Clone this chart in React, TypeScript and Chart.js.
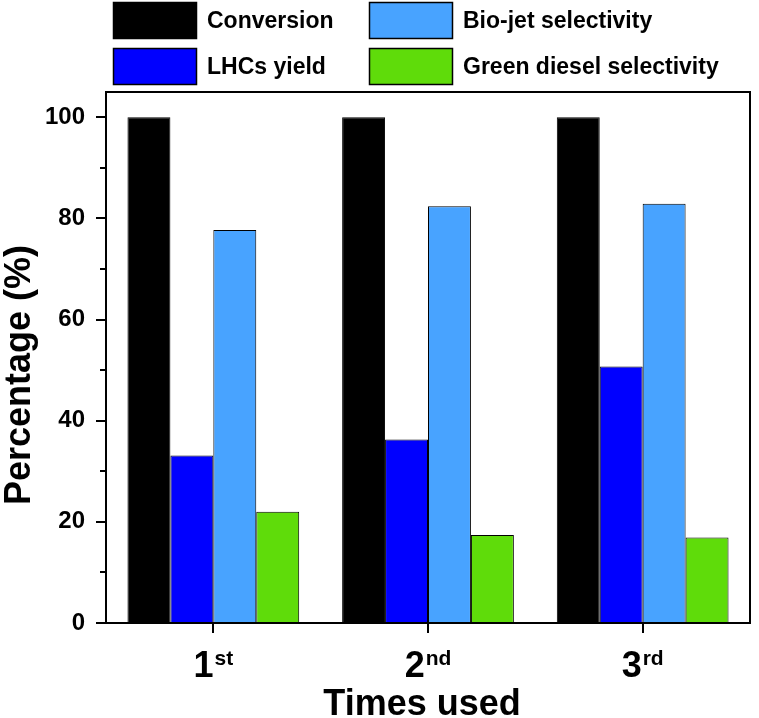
import React, { useEffect, useRef } from 'react';
import { Chart, registerables } from 'chart.js';

Chart.register(...registerables);

// Run number and its ordinal suffix (drawn as a superscript)
const categories = ['1', '2', '3'];
const ordinalSuffixes = ['st', 'nd', 'rd'];

// Series values (%)
const conversion = [100, 100, 100];
const lhcsYield = [33.1, 36.3, 50.7];
const bioJetSelectivity = [77.7, 82.4, 82.9];
const greenDieselSelectivity = [22.0, 17.4, 16.9];

// Y axis ticks
const yTickValues = [0, 20, 40, 60, 80, 100];
const yMinorTickValues = [10, 30, 50, 70, 90];

const seriesLabels = ['Conversion', 'LHCs yield', 'Bio-jet selectivity', 'Green diesel selectivity'];
const seriesColors = ['#000000', '#0000FF', '#48A3FF', '#5FDC0A'];

const FONT = '"Liberation Sans", Arial, Helvetica, sans-serif';
const W = 759;
const H = 718;

const decorPlugin = {
  id: 'decor',
  afterDatasetsDraw(chart: any) {
    const { ctx, chartArea: a, scales } = chart;
    const xs = scales.x;
    const ys = scales.y;
    ctx.save();
    ctx.strokeStyle = '#000';
    ctx.lineWidth = 2;
    ctx.lineCap = 'butt';
    // plot frame
    ctx.strokeRect(a.left, a.top, a.right - a.left, a.bottom - a.top);
    // ticks
    ctx.beginPath();
    for (const v of yTickValues) {
      const py = Math.round(ys.getPixelForValue(v));
      ctx.moveTo(a.left - 10, py);
      ctx.lineTo(a.left, py);
    }
    for (const v of yMinorTickValues) {
      const py = Math.round(ys.getPixelForValue(v));
      ctx.moveTo(a.left - 6, py);
      ctx.lineTo(a.left, py);
    }
    categories.forEach((_, i) => {
      const px = Math.round(xs.getPixelForValue(i));
      ctx.moveTo(px, a.bottom);
      ctx.lineTo(px, a.bottom + 10);
    });
    ctx.stroke();
    ctx.restore();
  },
  afterDraw(chart: any) {
    const { ctx, chartArea: a, scales } = chart;
    const xs = scales.x;
    ctx.save();
    ctx.fillStyle = '#000';

    // x tick labels with superscript suffix
    const mainFont = `bold 36px ${FONT}`;
    const supFont = `bold 21px ${FONT}`;
    categories.forEach((c, i) => {
      const px = xs.getPixelForValue(i);
      ctx.font = mainFont;
      const dw = ctx.measureText(c).width;
      ctx.font = supFont;
      const sw = ctx.measureText(ordinalSuffixes[i]).width;
      const start = px - (dw + sw + 1) / 2;
      ctx.textAlign = 'left';
      ctx.textBaseline = 'alphabetic';
      ctx.font = mainFont;
      ctx.fillText(c, start, a.bottom + 54);
      ctx.font = supFont;
      ctx.fillText(ordinalSuffixes[i], start + dw + 1, a.bottom + 42);
    });

    // x axis title
    ctx.font = `bold 36px ${FONT}`;
    ctx.textAlign = 'center';
    ctx.textBaseline = 'alphabetic';
    ctx.fillText('Times used', 422, 715);

    // y axis title
    ctx.save();
    ctx.translate(30, 375);
    ctx.rotate(-Math.PI / 2);
    ctx.fillText('Percentage (%)', 0, 0);
    ctx.restore();

    // legend: two columns, two rows
    const cols = [113, 369];
    const rows = [2, 48];
    const boxW = 84;
    const boxH = 37;
    ctx.font = `bold 23px ${FONT}`;
    ctx.textAlign = 'left';
    ctx.textBaseline = 'middle';
    chart.data.datasets.forEach((ds: any, i: number) => {
      const col = Math.floor(i / 2);
      const row = i % 2;
      const bx = cols[col];
      const by = rows[row];
      ctx.fillStyle = ds.backgroundColor;
      ctx.fillRect(bx, by, boxW, boxH);
      ctx.strokeStyle = '#000';
      ctx.lineWidth = 1.5;
      ctx.strokeRect(bx + 0.5, by + 0.5, boxW - 1, boxH - 1);
      ctx.fillStyle = '#000';
      ctx.fillText(ds.label, bx + boxW + 10, by + boxH / 2 + 1);
    });
    ctx.restore();
  },
};

export default function App() {
  const canvasRef = useRef<HTMLCanvasElement | null>(null);

  useEffect(() => {
    const canvas = canvasRef.current;
    if (!canvas) return;
    const values = [conversion, lhcsYield, bioJetSelectivity, greenDieselSelectivity];
    const chart = new Chart(canvas, {
      type: 'bar',
      data: {
        labels: categories,
        datasets: values.map((data, i) => ({
          label: seriesLabels[i],
          data,
          backgroundColor: seriesColors[i],
          borderColor: '#000000',
          borderWidth: 1,
          categoryPercentage: 0.8,
          barPercentage: 1.0,
        })),
      },
      options: {
        responsive: false,
        animation: false,
        devicePixelRatio: 1,
        layout: { padding: { top: 92, right: 9, bottom: 0, left: 0 } },
        plugins: {
          legend: { display: false },
          tooltip: { enabled: false },
          title: { display: false },
        },
        scales: {
          x: {
            offset: true,
            grid: { display: false, drawTicks: false, tickLength: 0 },
            border: { display: false },
            ticks: { display: false },
            afterFit: (scale: any) => {
              scale.height = 95;
            },
          },
          y: {
            min: 0,
            max: 105,
            grid: { display: false, drawTicks: false, tickLength: 0 },
            border: { display: false },
            afterBuildTicks: (scale: any) => {
              scale.ticks = yTickValues.map((v) => ({ value: v }));
            },
            ticks: {
              padding: 21,
              color: '#000',
              font: { family: FONT, weight: 'bold', size: 24 },
            },
            afterFit: (scale: any) => {
              scale.width = 106;
            },
          },
        },
      },
      plugins: [decorPlugin],
    });
    return () => chart.destroy();
  }, []);

  return (
    <div style={{ position: 'fixed', left: 0, top: 0, width: W, height: H, background: '#fff' }}>
      <canvas ref={canvasRef} width={W} height={H} style={{ display: 'block', width: W, height: H }} />
    </div>
  );
}
